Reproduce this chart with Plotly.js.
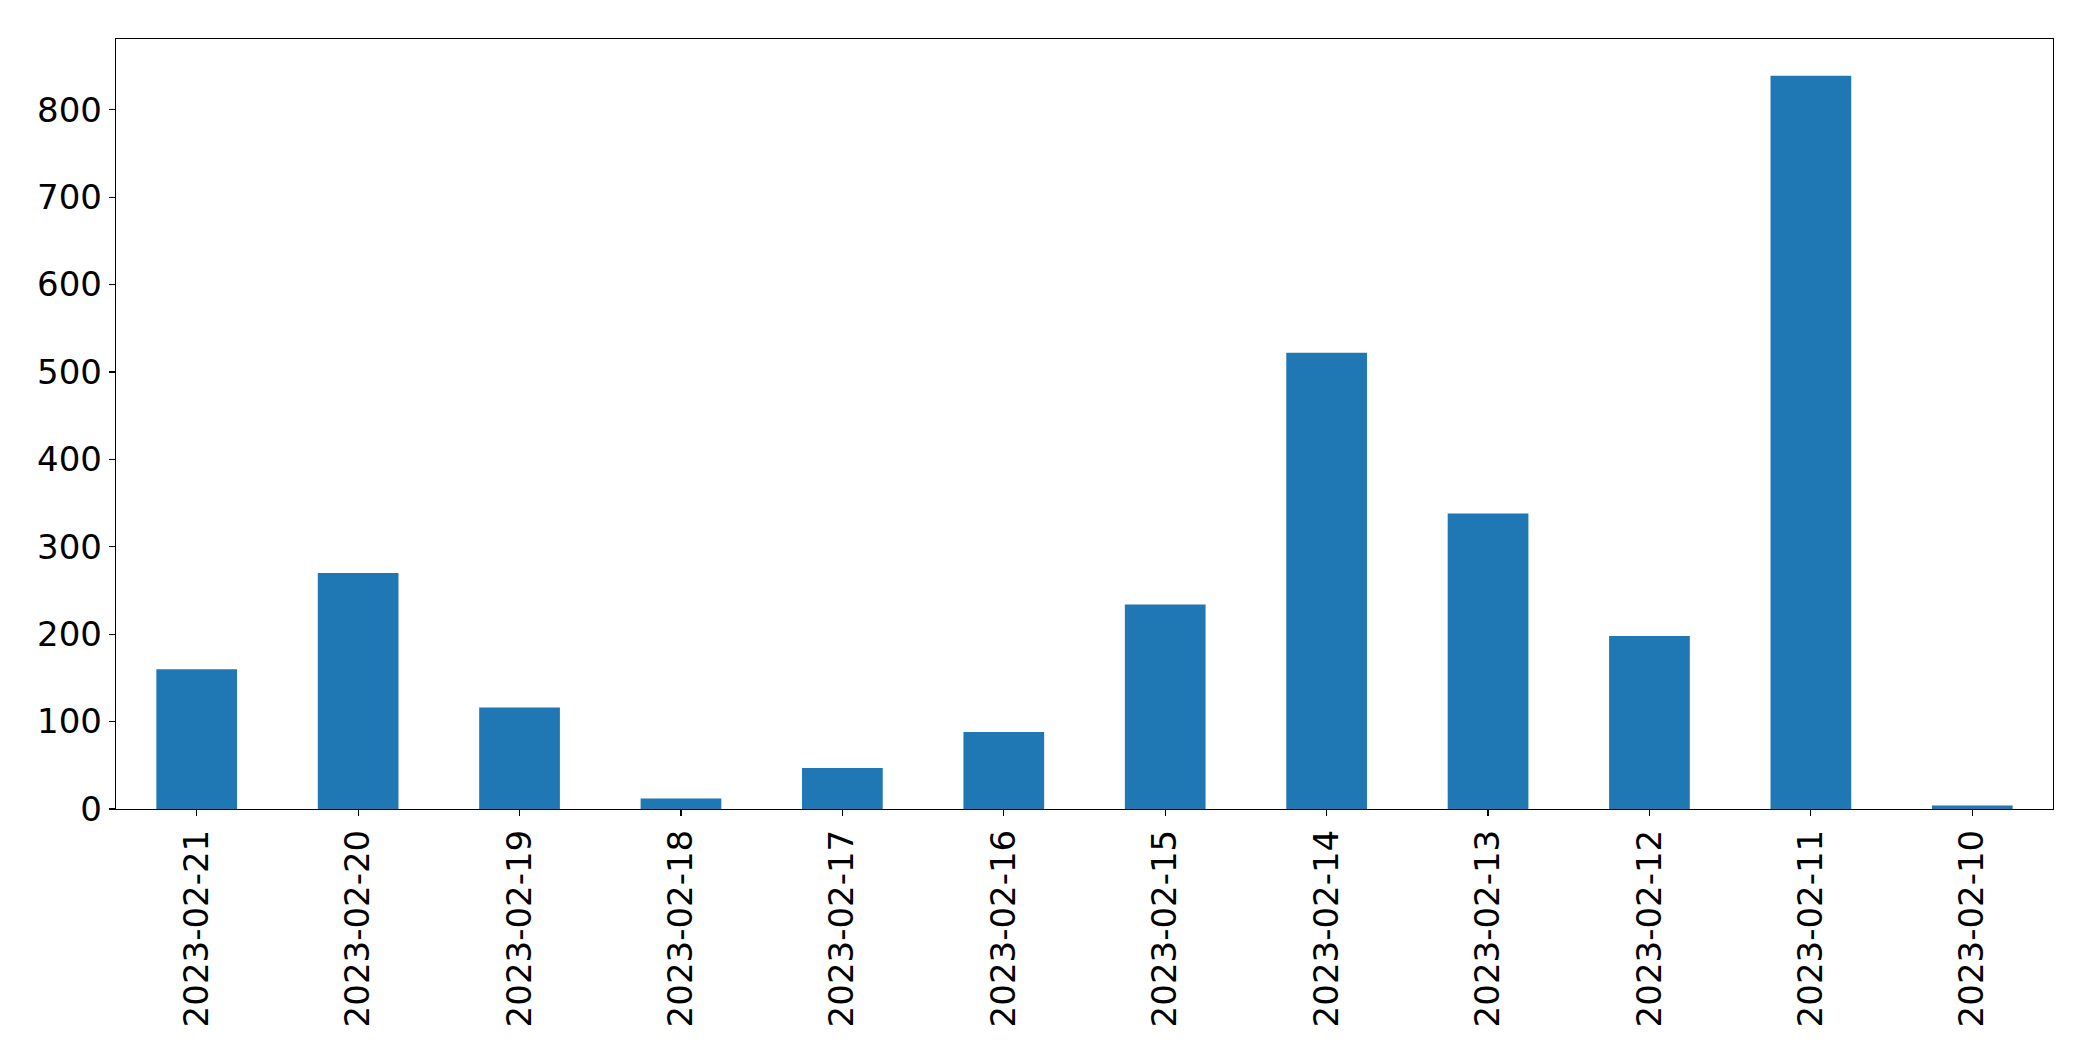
<!DOCTYPE html>
<html>
<head>
<meta charset="utf-8">
<script src="https://cdn.plot.ly/plotly-3.0.1.min.js"></script>
<style>
  html, body { margin: 0; padding: 0; background: #ffffff; }
  #chart { width: 2093px; height: 1061px; }
</style>
</head>
<body>
<div id="chart"></div>
<script>
const dates = ["2023-02-21", "2023-02-20", "2023-02-19", "2023-02-18", "2023-02-17", "2023-02-16",
               "2023-02-15", "2023-02-14", "2023-02-13", "2023-02-12", "2023-02-11", "2023-02-10"];
const counts = [160, 270, 116, 12, 47, 88, 234, 522, 338, 198, 839, 4];
const yTicks = [0, 100, 200, 300, 400, 500, 600, 700, 800];

const maxVal = Math.max(...counts);

const trace = {
  type: "bar",
  x: dates,
  y: counts,
  marker: { color: "#1f77b4", line: { width: 0 } },
  hoverinfo: "x+y"
};

const font = { family: "DejaVu Sans, sans-serif", size: 34, color: "#000000" };

const layout = {
  width: 2093,
  height: 1061,
  margin: { l: 116, r: 40, t: 39, b: 252, pad: 0 },
  paper_bgcolor: "#ffffff",
  plot_bgcolor: "#ffffff",
  showlegend: false,
  bargap: 0.5,
  font: font,
  xaxis: {
    type: "category",
    range: [-0.5, dates.length - 0.5],
    tickangle: -90,
    ticks: "outside",
    ticklen: 6,
    tickwidth: 1.2,
    tickcolor: "#000000",
    showline: true,
    linecolor: "#000000",
    linewidth: 1.2,
    mirror: true,
    showgrid: false,
    zeroline: false,
    tickfont: font
  },
  yaxis: {
    range: [0, maxVal * 1.05],
    tickmode: "array",
    tickvals: yTicks,
    ticktext: yTicks.map(String),
    ticks: "outside",
    ticklen: 6,
    tickwidth: 1.2,
    tickcolor: "#000000",
    showline: true,
    linecolor: "#000000",
    linewidth: 1.2,
    mirror: true,
    showgrid: false,
    zeroline: false,
    tickfont: font
  }
};

Plotly.newPlot("chart", [trace], layout, { displayModeBar: false, staticPlot: true });
</script>
</body>
</html>
